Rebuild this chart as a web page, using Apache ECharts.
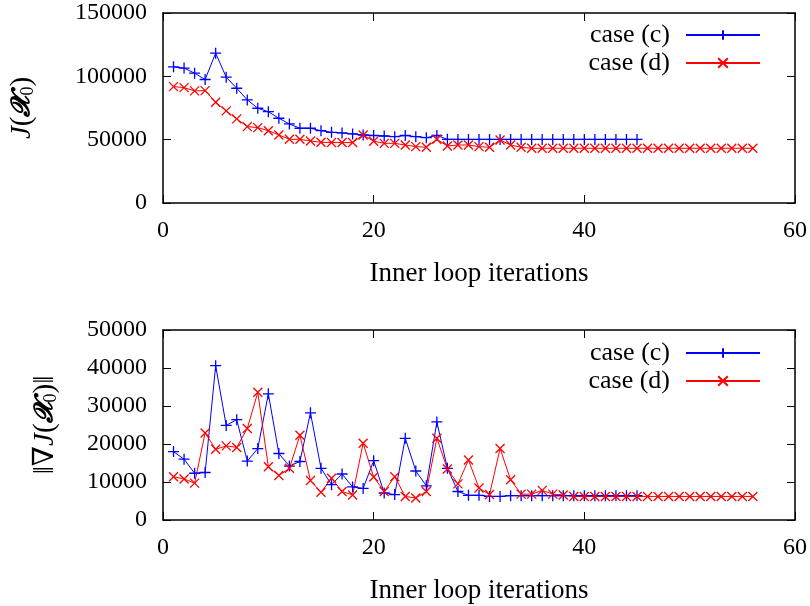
<!DOCTYPE html>
<html>
<head>
<meta charset="utf-8">
<script src="https://cdn.jsdelivr.net/npm/echarts@6/dist/echarts.min.js"></script>
<style>html,body{margin:0;padding:0;background:#fff}#c{width:810px;height:606px}</style>
</head>
<body>
<div id="c"></div>
<script>
// ---- data ----
const xTicks = [0, 20, 40, 60];
const costTicks = [0, 50000, 100000, 150000];
const gradTicks = [0, 10000, 20000, 30000, 40000, 50000];
const seriesNames = ['case (c)', 'case (d)'];

// J(X0) per inner loop iteration (iteration = index + 1)
const costC = [107500, 106500, 102500, 97500, 118300, 99300, 90600, 81400, 74800, 72100,
  66900, 62400, 59000, 59000, 57100, 55800, 55300, 54500, 53700, 53300,
  52900, 52400, 53300, 52400, 51600, 53300, 50300, 50200, 50200, 50200,
  50200, 50200, 50200, 50200, 50200, 50200, 50200, 50200, 50200, 50200,
  50200, 50200, 50200, 50200, 50200];
const costD = [91900, 91100, 88500, 88700, 79500, 72700, 66400, 60300, 59500, 57100,
  53700, 50300, 50300, 49000, 47900, 47700, 47700, 47700, 53700, 48800,
  47100, 47100, 45800, 44500, 44000, 50300, 45000, 45800, 45800, 44500,
  44000, 49800, 45800, 44000, 43200, 43200, 43200, 43200, 43200, 43200,
  43200, 43200, 43200, 43200, 43200, 43200, 43200, 43200, 43200, 43200,
  43200, 43200, 43200, 43200, 43200, 43200];

// ||grad J(X0)|| per inner loop iteration
const gradC = [18000, 16000, 12300, 12500, 40600, 24900, 26400, 15500, 18800, 33200,
  17500, 14200, 15400, 28200, 13600, 9300, 12100, 8700, 8300, 15600,
  7100, 6700, 21500, 12900, 9000, 25800, 13600, 7500, 6500, 6500,
  6200, 6200, 6400, 6400, 6400, 6400, 6400, 6400, 6400, 6400,
  6400, 6400, 6400, 6400, 6400];
const gradD = [11400, 10800, 9700, 22900, 18600, 19500, 19100, 24100, 33600, 14000,
  11700, 13600, 22300, 10400, 7300, 11000, 7500, 6600, 20200, 11300,
  7500, 11400, 6200, 5800, 7500, 21500, 13400, 9500, 15800, 8400,
  6700, 18800, 10600, 6800, 6800, 7800, 6800, 6600, 6200, 6200,
  6200, 6200, 6200, 6200, 6200, 6200, 6200, 6200, 6200, 6200,
  6200, 6200, 6200, 6200, 6200, 6200];

// ---- chart ----
const FONT = 'Liberation Serif, DejaVu Serif, serif';
const FS = 24;
const toPairs = arr => arr.map((v, i) => [i + 1, v]);
const PLUS = 'path://M0,-1L0,1M-1,0L1,0';
const CROSS = 'path://M-1,-1L1,1M-1,1L1,-1';
const BLUE = '#0000ff', RED = '#ff0000';

const axisLine = {show: true, onZero: false, lineStyle: {color: '#000', width: 1.5}};
const tick = {show: true, inside: true, length: 8, lineStyle: {color: '#000', width: 1}};
const label = {fontFamily: FONT, fontSize: FS, color: '#000'};

function xMain(g) {
  return {type: 'value', gridIndex: g, min: 0, max: 60, interval: 20, position: 'bottom',
    axisLine, axisTick: tick, splitLine: {show: false},
    axisLabel: Object.assign({margin: 16}, label),
    name: 'Inner loop iterations', nameLocation: 'middle', nameGap: 57,
    nameTextStyle: {fontFamily: FONT, fontSize: 27, color: '#000'}};
}
function xMirror(g) {
  return {type: 'value', gridIndex: g, min: 0, max: 60, interval: 20, position: 'top',
    axisLine, axisTick: tick, splitLine: {show: false}, axisLabel: {show: false}};
}
function yMain(g, max, interval, name, gap) {
  return {type: 'value', gridIndex: g, min: 0, max, interval, position: 'left',
    axisLine, axisTick: tick, splitLine: {show: false},
    axisLabel: Object.assign({margin: 16, formatter: v => String(v)}, label),
    name, nameLocation: 'middle', nameGap: gap, nameRotate: 90,
    nameTextStyle: {fontFamily: FONT, fontSize: 28, color: '#000',
      rich: {
        i: {fontFamily: FONT, fontSize: 29, fontStyle: 'italic', color: '#000'},
        n: {fontFamily: FONT, fontSize: 29, color: '#000'},
        b: {fontFamily: 'DejaVu Serif, ' + FONT, fontSize: 26, fontWeight: 'bold', fontStyle: 'italic', color: '#000'},
        s: {fontFamily: FONT, fontSize: 18, color: '#000', verticalAlign: 'bottom', padding: [11, 0, 0, 0]}
      }}};
}
function yMirror(g, max, interval) {
  return {type: 'value', gridIndex: g, min: 0, max, interval, position: 'right',
    axisLine, axisTick: tick, splitLine: {show: false}, axisLabel: {show: false}};
}
function line(name, data, xi, yi, color, sym, size) {
  return {name, type: 'line', xAxisIndex: xi, yAxisIndex: yi, data,
    symbol: sym, symbolSize: size, showAllSymbol: true,
    lineStyle: {color, width: 1}, itemStyle: {color, borderColor: color, borderWidth: 1.3},
    emphasis: {disabled: true}};
}
function legend(top) {
  return {data: seriesNames, orient: 'vertical', right: 44, top, align: 'right',
    itemWidth: 74, itemHeight: 12, itemGap: 2,
    textStyle: {fontFamily: FONT, fontSize: 26, color: '#000', lineHeight: 26, padding: [0, 11, 0, 0]}};
}

const chart = echarts.init(document.getElementById('c'), null, {renderer: 'canvas'});
chart.setOption({
  animation: false,
  backgroundColor: '#fff',
  grid: [
    {left: 163, top: 13, right: 15, height: 190},
    {left: 163, top: 330, right: 15, height: 190}
  ],
  legend: [legend(17), legend(335)],
  xAxis: [xMain(0), xMirror(0), xMain(1), xMirror(1)],
  yAxis: [
    yMain(0, 150000, 50000, '{i|J}{n|(}{b|𝓧}{s|0}{n|)}', 126),
    yMirror(0, 150000, 50000),
    yMain(1, 50000, 10000, '{n|‖∇}{i|J}{n|(}{b|𝓧}{s|0}{n|)‖}', 103),
    yMirror(1, 50000, 10000)
  ],
  series: [
    line(seriesNames[0], toPairs(costC), 0, 0, BLUE, PLUS, 11),
    line(seriesNames[1], toPairs(costD), 0, 0, RED, CROSS, 9),
    line(seriesNames[0], toPairs(gradC), 2, 2, BLUE, PLUS, 11),
    line(seriesNames[1], toPairs(gradD), 2, 2, RED, CROSS, 9)
  ]
});
</script>
</body>
</html>
